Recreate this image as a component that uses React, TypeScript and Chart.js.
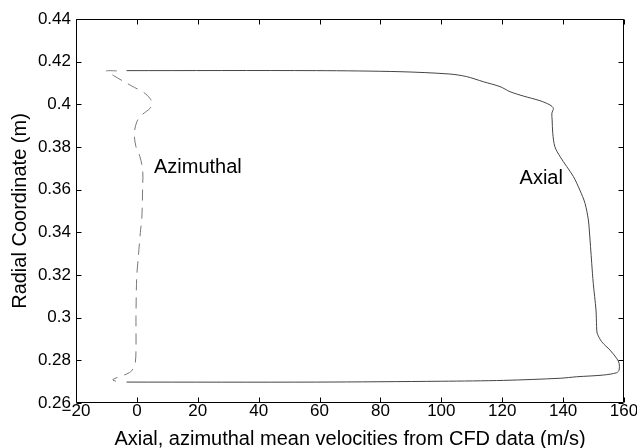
import React, { useEffect, useRef } from "react";
import { Chart, registerables } from "chart.js";

Chart.register(...registerables);

const xTicks = [-20, 0, 20, 40, 60, 80, 100, 120, 140, 160];
const yTicks = [0.26, 0.28, 0.3, 0.32, 0.34, 0.36, 0.38, 0.4, 0.42, 0.44];

const axialX = [-3.4, 59, 100, 120.5, 139, 144.5, 153.2, 157.6, 158.4, 158.4, 157.6, 155.4, 152.7, 151.2, 151, 150.8, 149.9, 149.4, 148.6, 148.3, 147.2, 145.5, 143.4, 141.2, 139, 137.3, 136.6, 136.4, 136.3, 136.8, 135.7, 132.4, 126.9, 122.6, 119.3, 113.8, 108.3, 102.8, 86.4, 59, -3.4];
const axialY = [0.2698, 0.2698, 0.2702, 0.2706, 0.2716, 0.2723, 0.2731, 0.2742, 0.2755, 0.2786, 0.2809, 0.2848, 0.2887, 0.2927, 0.2958, 0.3036, 0.3161, 0.3255, 0.3411, 0.3458, 0.3536, 0.3598, 0.3661, 0.3708, 0.3755, 0.3801, 0.3864, 0.3927, 0.3958, 0.3981, 0.3997, 0.4017, 0.4039, 0.4059, 0.4083, 0.4106, 0.413, 0.4142, 0.4153, 0.4158, 0.4158];

const azimuthalX = [-6.6, -10.1, -7.7, -4.2, -1.7, 2.3, 4.3, 5.0, 4.3, 1.6, 0.0, -0.85, -0.3, 1.0, 1.9, 1.9, 1.6, 1.25, 0.46, -0.06, -0.3, -0.3, -0.6, -1.7, -3.35, -6.9, -7.95, -6.9];
const azimuthalY = [0.4157, 0.4156, 0.4135, 0.4106, 0.4086, 0.4055, 0.4028, 0.4005, 0.3981, 0.395, 0.3919, 0.3864, 0.3801, 0.3755, 0.3692, 0.3614, 0.3458, 0.3416, 0.3283, 0.3189, 0.3002, 0.2845, 0.2783, 0.2751, 0.2736, 0.2717, 0.2708, 0.2702];

const labelTexts = ["Azimuthal", "Axial"];
const labelX = [5.6, 125.7];
const labelY = [0.3703, 0.3653];

const xTitle = "Axial, azimuthal mean velocities from CFD data (m/s)";
const yTitle = "Radial Coordinate (m)";

const FONT = "'Liberation Sans', Arial, Helvetica, sans-serif";

const framePlugin = {
  id: "frameTicks",
  afterDraw(chart: any) {
    const { ctx, chartArea, scales } = chart;
    const { left, right, top, bottom } = chartArea;
    const xs = scales.x;
    const ys = scales.y;
    ctx.save();
    ctx.strokeStyle = "#000";
    ctx.lineWidth = 1;
    const L = Math.round(left) + 0.5;
    const R = Math.round(right) - 0.5;
    const T = Math.round(top) + 0.5;
    const B = Math.round(bottom) - 0.5;
    ctx.beginPath();
    ctx.rect(L, T, R - L, B - T);
    ctx.stroke();
    const tl = 5;
    ctx.beginPath();
    xTicks.forEach((v) => {
      const px = Math.round(xs.getPixelForValue(v)) + 0.5;
      ctx.moveTo(px, B);
      ctx.lineTo(px, B - tl);
      ctx.moveTo(px, T);
      ctx.lineTo(px, T + tl);
    });
    yTicks.forEach((v) => {
      const py = Math.round(ys.getPixelForValue(v)) + 0.5;
      ctx.moveTo(L, py);
      ctx.lineTo(L + tl, py);
      ctx.moveTo(R, py);
      ctx.lineTo(R - tl, py);
    });
    ctx.stroke();
    ctx.fillStyle = "#000";
    ctx.font = `20px ${FONT}`;
    ctx.textAlign = "left";
    ctx.textBaseline = "middle";
    labelTexts.forEach((t, i) => {
      ctx.fillText(t, xs.getPixelForValue(labelX[i]), ys.getPixelForValue(labelY[i]));
    });
    ctx.restore();
  },
};

export default function App() {
  const ref = useRef<HTMLCanvasElement | null>(null);
  useEffect(() => {
    if (!ref.current) return;
    const chart = new Chart(ref.current, {
      type: "scatter",
      data: {
        datasets: [
          {
            label: "Axial",
            data: axialX.map((x, i) => ({ x, y: axialY[i] })),
            showLine: true,
            borderColor: "#444",
            borderWidth: 1,
            pointRadius: 0,
            tension: 0.3,
            fill: false,
          },
          {
            label: "Azimuthal",
            data: azimuthalX.map((x, i) => ({ x, y: azimuthalY[i] })),
            showLine: true,
            borderColor: "#777",
            borderWidth: 1,
            borderDash: [11, 7],
            pointRadius: 0,
            tension: 0.3,
            fill: false,
          },
        ],
      },
      options: {
        responsive: false,
        animation: false,
        devicePixelRatio: 1,
        layout: { padding: { top: 19, right: 13, left: 0, bottom: 0 } },
        plugins: { legend: { display: false }, tooltip: { enabled: false } },
        scales: {
          x: {
            type: "linear",
            min: -20,
            max: 160,
            border: { display: false },
            grid: { display: false, drawTicks: false },
            afterBuildTicks: (s: any) => {
              s.ticks = xTicks.map((v) => ({ value: v }));
            },
            afterFit: (s: any) => {
              s.height = 45;
              s.paddingLeft = 0;
              s.paddingRight = 0;
            },
            ticks: {
              padding: 0,
              color: "#000",
              maxRotation: 0,
              font: { family: FONT, size: 17, lineHeight: 1 },
              callback: (v: any) => (v < 0 ? "\u2212" + Math.abs(v) : String(v)),
            },
            title: {
              display: true,
              text: xTitle,
              color: "#000",
              font: { family: FONT, size: 20, lineHeight: 1 },
              padding: { top: 0, bottom: -1 },
            },
          },
          y: {
            type: "linear",
            min: 0.26,
            max: 0.44,
            border: { display: false },
            grid: { display: false, drawTicks: false },
            afterBuildTicks: (s: any) => {
              s.ticks = yTicks.map((v) => ({ value: v }));
            },
            afterFit: (s: any) => {
              s.width = 76;
              s.paddingTop = 0;
              s.paddingBottom = 0;
            },
            ticks: {
              padding: 5,
              color: "#000",
              font: { family: FONT, size: 17, lineHeight: 1 },
              callback: (v: any) => String(Number(Number(v).toFixed(2))),
            },
            title: {
              display: true,
              text: yTitle,
              color: "#000",
              font: { family: FONT, size: 20, lineHeight: 1 },
              padding: { top: 10, bottom: 0 },
            },
          },
        },
      },
      plugins: [framePlugin],
    } as any);
    return () => chart.destroy();
  }, []);
  return (
    <div style={{ position: "fixed", left: 0, top: 0, width: 637, height: 448, background: "#fff" }}>
      <canvas ref={ref} width={637} height={448} style={{ display: "block", width: 637, height: 448 }} />
    </div>
  );
}
